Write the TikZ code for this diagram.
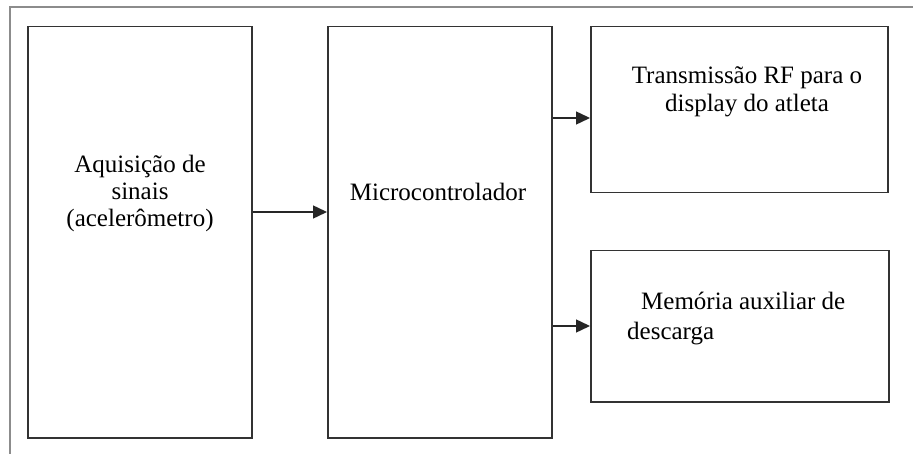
\documentclass[tikz,border=0pt]{standalone}
\usepackage{fontspec}
\setmainfont{Liberation Serif}
\usetikzlibrary{arrows.meta}
\begin{document}
\begin{tikzpicture}[x=1pt,y=-1pt,
  block/.style={draw=black!80,line width=1.5pt,inner sep=0pt,anchor=north west},
  lbl/.style={inner sep=0pt,text=black,font=\fontsize{25}{27}\selectfont},
  arr/.style={draw=black!85,line width=1.4pt,-{Triangle[length=14pt,width=13pt]}}]
  \useasboundingbox (0,0) rectangle (913,454);
  \fill[white] (0,0) rectangle (913,454);
  % outer frame: only its left and upper edges fall inside the page
  \draw[black!45,line width=2.2pt] (10,460) -- (10,7) -- (920,7);

  % blocks
  \node[block,minimum width=224pt,minimum height=411pt] (acq) at (27,26) {};
  \node[block,minimum width=224pt,minimum height=411pt] (mcu) at (327,26) {};
  \node[block,minimum width=297pt,minimum height=166pt] (rf)  at (590,26) {};
  \node[block,minimum width=298pt,minimum height=151pt] (mem) at (590,250) {};

  % texts
  \node[lbl,anchor=base] (acq1) at (140,173) {Aquisição de};
  \node[lbl,anchor=base] (acq2) at (140,200) {sinais};
  \node[lbl,anchor=base] (acq3) at (140,227) {(acelerômetro)};
  \node[lbl,anchor=base] (mcu1) at (438,201) {Microcontrolador};
  \node[lbl,anchor=base] (rf1) at (747,84) {Transmissão RF para o};
  \node[lbl,anchor=base] (rf2) at (747,112) {display do atleta};
  \node[lbl,anchor=base west] (mem1) at (641,309) {Memória auxiliar de};
  \node[lbl,anchor=base west] (mem2) at (627,340) {descarga};

  % connectors
  \coordinate (y1) at (0,212);
  \coordinate (y2) at (0,118);
  \coordinate (y3) at (0,326);
  \draw[arr] (acq.east |- y1) -- (mcu.west |- y1);
  \draw[arr] (mcu.east |- y2) -- (rf.west |- y2);
  \draw[arr] (mcu.east |- y3) -- (mem.west |- y3);
\end{tikzpicture}
\end{document}
